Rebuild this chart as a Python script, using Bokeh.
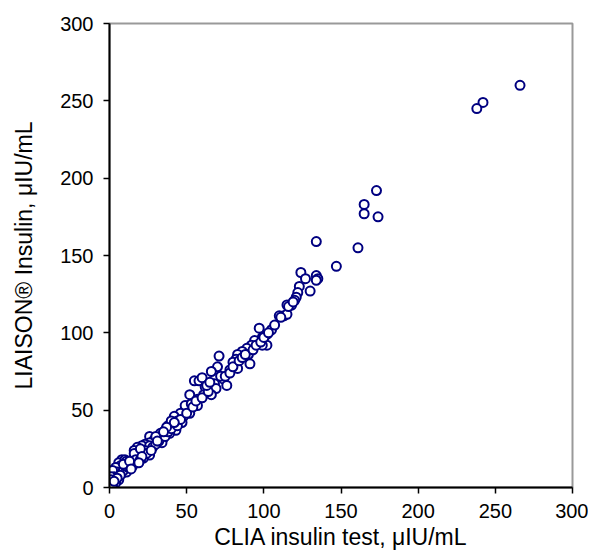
from bokeh.plotting import figure
from bokeh.models import Range1d, FixedTicker, ColumnDataSource
from bokeh.embed import file_html
from bokeh.resources import INLINE

# CLIA insulin test (x) vs LIAISON insulin (y), uIU/mL
clia = [266, 242, 238, 173, 165, 165, 174, 134, 161, 147, 124, 127, 134, 135, 134, 123, 130, 122, 121,
        120, 115, 118, 110, 113, 115, 116, 119, 105, 97, 102, 99, 94, 102, 99, 92, 89, 86, 83, 90, 82,
        80, 83, 78, 91, 71, 70, 66, 74, 76, 55, 58, 60, 68, 62, 69, 66, 61, 52, 57, 51, 57, 49, 53, 48,
        52, 46, 42, 44, 47, 41, 38, 36, 43, 39, 33, 26, 29, 35, 34, 26, 23, 21, 18, 26, 23, 16, 26, 20,
        18, 22, 16, 8, 6, 10, 7, 10, 4, 5, 2, 8, 3, 1, 6, 4, 2, 1,
        12, 13, 11, 14, 9, 7, 5, 3, 12, 15, 17, 20, 24, 28, 30, 32, 36, 38, 40, 44, 46, 50, 54, 56, 60,
        64, 63, 65, 72, 75, 78, 80, 84, 86, 88, 93, 95, 98, 100, 103, 107, 111, 10, 11, 9, 13, 20, 30,
        31, 40, 42, 37, 35, 27, 21, 19, 14]
liaison = [260, 249, 245, 192, 183, 177, 175, 159, 155, 143, 139, 135, 137, 135, 134, 130, 127, 126, 123,
           121, 118, 118, 111, 111, 112, 117, 120, 102, 103, 99, 97, 95, 92, 92, 92, 90, 88, 86, 86, 83,
           81, 77, 76, 80, 85, 78, 75, 70, 66, 69, 69, 71, 67, 65, 64, 60, 60, 60, 57, 53, 53, 53, 54, 46,
           48, 48, 46, 43, 42, 40, 40, 37, 37, 35, 35, 33, 31, 32, 29, 29, 28, 27, 26, 27, 24, 24, 21, 23,
           20, 19, 22, 18, 16, 18, 14, 12, 13, 10, 11, 9, 7, 7, 5, 3, 2, 5,
           15, 12, 10, 16, 11, 8, 6, 4, 13, 14, 18, 18, 22, 26, 28, 30, 33, 36, 38, 40, 44, 48, 52, 56, 58,
           62, 66, 68, 72, 72, 74, 78, 82, 84, 86, 89, 92, 94, 97, 100, 105, 110, 14, 17, 15, 17, 25, 33,
           30, 43, 42, 39, 36, 24, 20, 16, 12]
ticks = [0, 50, 100, 150, 200, 250, 300]

FONT = "Liberation Sans"

p = figure(width=588, height=558, output_backend="svg", toolbar_location=None,
           x_range=Range1d(0, 300), y_range=Range1d(0, 300),
           min_border_left=109, min_border_right=16, min_border_top=23, min_border_bottom=71)
p.grid.visible = False
p.outline_line_color = "#999999"
p.outline_line_width = 2
p.background_fill_color = "white"
p.border_fill_color = "white"

src = ColumnDataSource(dict(x=clia, y=liaison))
p.scatter("x", "y", source=src, size=9, marker="circle", line_color="#000080",
          line_width=2, fill_color="white")

for ax in (p.xaxis[0], p.yaxis[0]):
    ax.ticker = FixedTicker(ticks=ticks)
    ax.axis_line_color = "black"
    ax.axis_line_width = 2
    ax.major_tick_line_color = "black"
    ax.major_tick_line_width = 1.5
    ax.major_tick_out = 6
    ax.major_tick_in = 0
    ax.minor_tick_line_color = None
    ax.major_label_text_font = FONT
    ax.major_label_text_font_size = "20px"
    ax.major_label_text_color = "black"
    ax.axis_label_text_font = FONT
    ax.axis_label_text_font_size = "23px"
    ax.axis_label_text_font_style = "normal"
    ax.axis_label_text_color = "black"

p.xaxis[0].axis_label = "CLIA insulin test, μIU/mL"
p.yaxis[0].axis_label = "LIAISON® Insulin, μIU/mL"
p.xaxis[0].major_label_standoff = 10
p.xaxis[0].axis_label_standoff = 3
p.yaxis[0].major_label_standoff = 10
p.yaxis[0].axis_label_standoff = 20

open("out.html", "w").write(file_html(p, INLINE))
